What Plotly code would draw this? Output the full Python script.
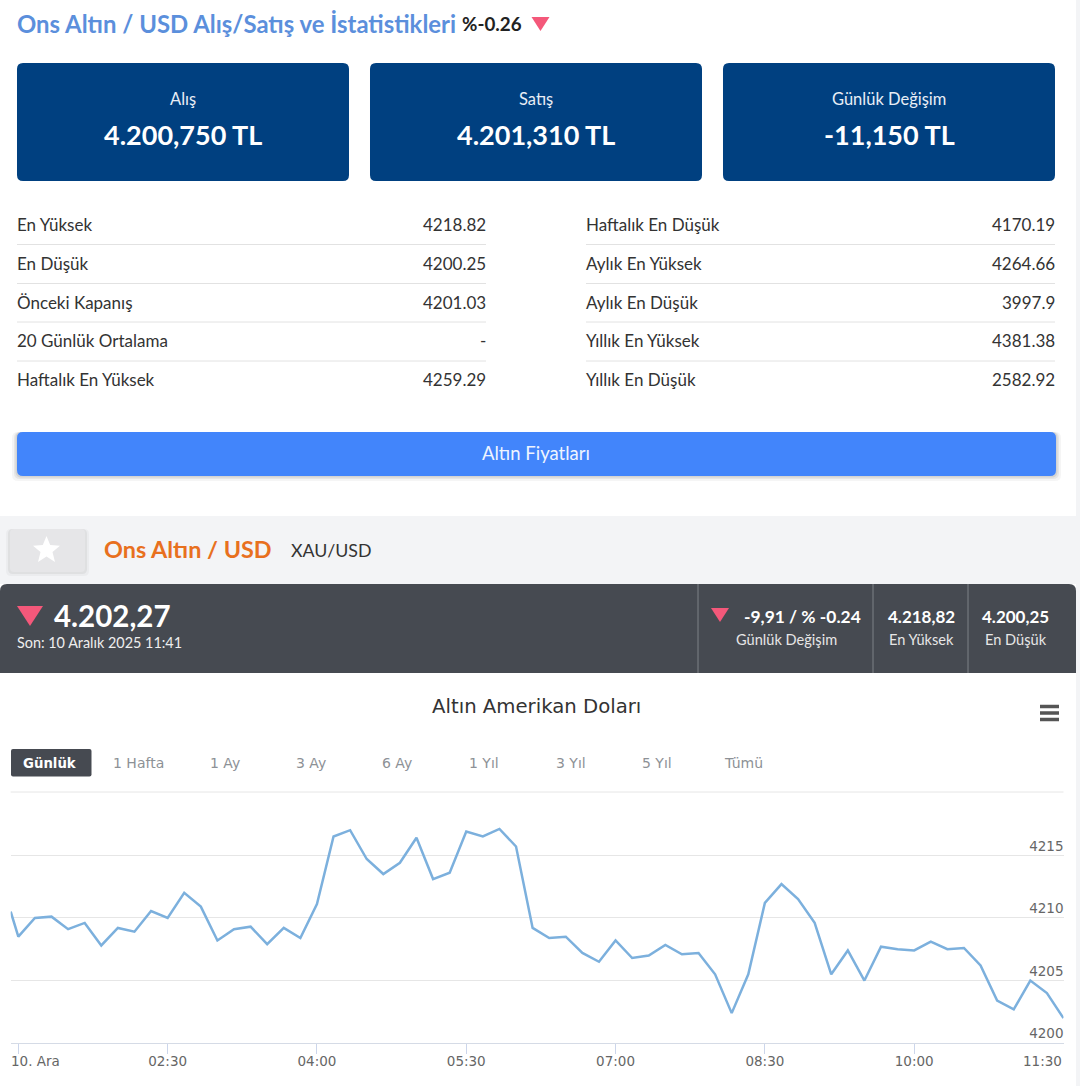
import plotly.graph_objects as go

W = 1080
H = 1086

# chart data, one point every 10 minutes from 01:00 (first one is cut by the plot edge)
times = [
    "00:55:24", "01:00", "01:10", "01:20", "01:30", "01:40", "01:50", "02:00", "02:10", "02:20",
    "02:30", "02:40", "02:50", "03:00", "03:10", "03:20", "03:30", "03:40", "03:50", "04:00",
    "04:10", "04:20", "04:30", "04:40", "04:50", "05:00", "05:10", "05:20", "05:30", "05:40",
    "05:50", "06:00", "06:10", "06:20", "06:30", "06:40", "06:50", "07:00", "07:10", "07:20",
    "07:30", "07:40", "07:50", "08:00", "08:10", "08:20", "08:30", "08:40", "08:50", "09:00",
    "09:10", "09:20", "09:30", "09:40", "09:50", "10:00", "10:10", "10:20", "10:30", "10:40",
    "10:50", "11:00", "11:10", "11:20", "11:30",
]
prices = [
    4210.5, 4208.5, 4210.0, 4210.1, 4209.1, 4209.6, 4207.8, 4209.2, 4208.9, 4210.55,
    4210.0, 4212.0, 4210.9, 4208.2, 4209.1, 4209.3, 4207.9, 4209.2, 4208.4, 4211.1,
    4216.5, 4217.0, 4214.7, 4213.5, 4214.4, 4216.4, 4213.1, 4213.6, 4216.9, 4216.5,
    4217.1, 4215.7, 4209.2, 4208.4, 4208.5, 4207.2, 4206.5, 4208.2, 4206.8, 4207.0,
    4207.85, 4207.1, 4207.2, 4205.5, 4202.4, 4205.5, 4211.2, 4212.7, 4211.5, 4209.6,
    4205.5, 4207.4, 4205.0, 4207.7, 4207.5, 4207.4, 4208.1, 4207.5, 4207.6, 4206.2,
    4203.4, 4202.7, 4205.0, 4204.0, 4202.0,
]

y_ticks = [4200, 4205, 4210, 4215, 4220]
y_labels = ["4200", "4205", "4210", "4215", ""]
x_ticks = ["01:00", "02:30", "04:00", "05:30", "07:00", "08:30", "10:00", "11:30"]
x_labels = ["", "02:30", "04:00", "05:30", "07:00", "08:30", "10:00", ""]

# texts of the page around the chart
cards = [("Alış", "4.200,750 TL"), ("Satış", "4.201,310 TL"), ("Günlük Değişim", "-11,150 TL")]
stats_left = [("En Yüksek", "4218.82"), ("En Düşük", "4200.25"), ("Önceki Kapanış", "4201.03"),
              ("20 Günlük Ortalama", "-"), ("Haftalık En Yüksek", "4259.29")]
stats_right = [("Haftalık En Düşük", "4170.19"), ("Aylık En Yüksek", "4264.66"), ("Aylık En Düşük", "3997.9"),
               ("Yıllık En Yüksek", "4381.38"), ("Yıllık En Düşük", "2582.92")]
ranges = ["1 Hafta", "1 Ay", "3 Ay", "6 Ay", "1 Yıl", "3 Yıl", "5 Yıl", "Tümü"]
range_x = [138, 225, 311, 397, 484, 571, 657, 743]

PAGE_FONT = "Lato"
CHART_FONT = "DejaVu Sans"
PINK = "#f4587a"
NAVY = "#004080"
DARK = "#464a51"
BLUE = "#4285fb"


def px(x):
    return x / W


def py(y):
    return 1 - y / H


def stamp(x, y):
    return f"{px(x):.5f} {py(y):.5f}"


def rounded(x0, y0, x1, y1, r, bottom=True):
    path = f"M {stamp(x0 + r, y0)} L {stamp(x1 - r, y0)} Q {stamp(x1, y0)} {stamp(x1, y0 + r)} "
    if bottom:
        path += f"L {stamp(x1, y1 - r)} Q {stamp(x1, y1)} {stamp(x1 - r, y1)} "
        path += f"L {stamp(x0 + r, y1)} Q {stamp(x0, y1)} {stamp(x0, y1 - r)} "
    else:
        path += f"L {stamp(x1, y1)} L {stamp(x0, y1)} "
    path += f"L {stamp(x0, y0 + r)} Q {stamp(x0, y0)} {stamp(x0 + r, y0)} Z"
    return path


def polygon(points):
    return "M " + " L ".join(stamp(x, y) for x, y in points) + " Z"


shapes = []
notes = []


def box(x0, y0, x1, y1, color, r=0, bottom=True, layer="below"):
    shapes.append(dict(type="path", path=rounded(x0, y0, x1, y1, r, bottom) if r else
                       polygon([(x0, y0), (x1, y0), (x1, y1), (x0, y1)]),
                       xref="paper", yref="paper", fillcolor=color, line_width=0, layer=layer))


def rule(x0, y0, x1, y1, color, width=1):
    shapes.append(dict(type="line", x0=px(x0), y0=py(y0), x1=px(x1), y1=py(y1), xref="paper", yref="paper",
                       line=dict(color=color, width=width), layer="below"))


def triangle(cx, cy, w, h, color=PINK):
    shapes.append(dict(type="path", path=polygon([(cx - w / 2, cy - h / 2), (cx + w / 2, cy - h / 2), (cx, cy + h / 2)]),
                       xref="paper", yref="paper", fillcolor=color, line_width=0))


def label(x, y, text, size, color, anchor="left", bold=False, font=PAGE_FONT):
    if bold:
        text = f"<b>{text}</b>"
    # annotations keep a small inner padding, take it back at the edges
    shift = {"left": -2, "right": 2, "center": 0}[anchor]
    notes.append(dict(x=px(x), y=py(y), xref="paper", yref="paper", text=text, showarrow=False, xanchor=anchor,
                      yanchor="middle", xshift=shift, font=dict(family=font, size=size, color=color)))


# page backgrounds
box(0, 516, 1080, 584, "#f3f4f6")
box(1076, 0, 1080, 1086, "#f3f4f6")

# header
label(17, 23, "Ons Altın / USD Alış/Satış ve İstatistikleri", 23.9, "#5b8fdc", bold=True)
label(462, 24, "%-0.26", 18.8, "#222222", bold=True)
triangle(540.5, 24, 18, 14)

# price cards
card_x = [(17, 349), (370, 702), (723, 1055)]
for (x0, x1), (title, value) in zip(card_x, cards):
    box(x0, 63, x1, 181, NAVY, r=6)
    label((x0 + x1) / 2, 99.5, title, 16.5, "#e8eef6", anchor="center")
    label((x0 + x1) / 2, 134, value, 27, "#ffffff", anchor="center", bold=True)

# stats tables
row_y = [224.6, 263.6, 302.6, 341, 379.6]
rule_y = [244.5, 283.5, 322, 361]
for (x0, x1), rows in (((17, 486), stats_left), ((586, 1055), stats_right)):
    for i, (name, value) in enumerate(rows):
        label(x0, row_y[i], name, 17, "#333333")
        label(x1, row_y[i], value, 17, "#333333", anchor="right")
    for y in rule_y:
        rule(x0, y, x1, y, "#e2e2e2")

# button
for grow, alpha in ((5, 0.04), (3, 0.06), (1.5, 0.08)):
    box(17 - grow, 432, 1056 + grow, 476 + grow, f"rgba(0,0,0,{alpha})", r=6)
box(17, 432, 1056, 476, BLUE, r=6)
label(536, 453, "Altın Fiyatları", 18.5, "#eef4ff", anchor="center")

# favourite star + instrument name
for grow, alpha in ((4, 0.03), (2, 0.05)):
    box(10 - grow, 529, 85 + grow, 572 + grow, f"rgba(0,0,0,{alpha})", r=5)
box(10, 529, 85, 572, "#e6e6e8", r=4)
star = [(46.5, 536), (50.2, 545), (60, 545.7), (52.5, 552), (55, 562), (46.5, 556.6), (38, 562), (40.5, 552), (33, 545.7), (42.8, 545)]
shapes.append(dict(type="path", path=polygon(star), xref="paper", yref="paper", fillcolor="#ffffff", line_width=0))
label(104, 549, "Ons Altın / USD", 23.4, "#e8701e", bold=True)
label(291, 549.5, "XAU/USD", 17.8, "#333333")

# dark quote bar
box(0, 584, 1076, 673, DARK, r=7, bottom=False)
for x in (698, 873, 968):
    rule(x, 584, x, 673, "#7d8187")
triangle(30, 616, 26, 20)
label(54, 615.5, "4.202,27", 29.5, "#ffffff", bold=True)
label(17, 642.5, "Son: 10 Aralık 2025 11:41", 14.4, "#eeeeee")
triangle(720, 615, 18, 14)
label(802.5, 616, "-9,91 / % -0.24", 17.4, "#ffffff", anchor="center", bold=True)
label(786, 639.5, "Günlük Değişim", 14.6, "#e6e6e6", anchor="center")
label(921, 616, "4.218,82", 17, "#ffffff", anchor="center", bold=True)
label(921, 639.5, "En Yüksek", 14.6, "#e6e6e6", anchor="center")
label(1015.5, 616, "4.200,25", 17, "#ffffff", anchor="center", bold=True)
label(1015.5, 639.5, "En Düşük", 14.6, "#e6e6e6", anchor="center")

# chart title, menu and range buttons
label(536.5, 706, "Altın Amerikan Doları", 19.7, "#333333", anchor="center", font=CHART_FONT)
for y in (706.5, 713, 719.5):
    rule(1040, y, 1059, y, "#555555", width=3.5)
box(11, 749, 91.5, 776.5, DARK, r=2)
label(50, 763, "Günlük", 13.3, "#ffffff", anchor="center", bold=True, font=CHART_FONT)
for x, text in zip(range_x, ranges):
    label(x, 763, text, 14, "#8d9196", anchor="center", font=CHART_FONT)

# top gridline sits on the axis edge, plotly leaves it out
rule(10.7, 792, 1063.5, 792, "#e6e6e6")

day = "2025-12-10 "


def stamped(clock):
    return day + clock


fig = go.Figure()
fig.add_trace(go.Scatter(x=[stamped(t) for t in times], y=prices, mode="lines",
                         line=dict(color="#7cb0dd", width=2.5), hoverinfo="x+y", showlegend=False))

# the two edge labels are pushed inwards so they stay on the page
notes.append(dict(x=stamped(x_ticks[0]), y=0, xref="x", yref="paper", yshift=(H - 1061), text="10. Ara", showarrow=False,
                  xanchor="center", xshift=17.5, yanchor="middle", font=dict(family=CHART_FONT, size=13.5, color="#666666")))
notes.append(dict(x=stamped(x_ticks[-1]), y=0, xref="x", yref="paper", yshift=(H - 1061), text="11:30", showarrow=False,
                  xanchor="right", yanchor="middle", font=dict(family=CHART_FONT, size=13.5, color="#666666")))

fig.update_layout(
    width=W,
    height=H,
    autosize=False,
    margin=dict(l=0, r=0, t=0, b=0),
    paper_bgcolor="#ffffff",
    plot_bgcolor="#ffffff",
    showlegend=False,
    shapes=shapes,
    annotations=notes,
    xaxis=dict(
        domain=[px(10.7), px(1063.5)],
        type="date",
        range=[stamped("00:55:24"), stamped("11:30")],
        tickmode="array",
        tickvals=[stamped(t) for t in x_ticks],
        ticktext=x_labels,
        showgrid=False,
        ticks="outside",
        ticklen=10,
        tickcolor="#ccd6eb",
        ticklabelstandoff=-4,
        showline=True,
        linecolor="#d5dbe6",
        linewidth=1,
        tickfont=dict(family=CHART_FONT, size=13.5, color="#666666"),
        anchor="y",
        zeroline=False,
    ),
    yaxis=dict(
        domain=[py(1043.2), py(792.6)],
        range=[4200, 4220],
        side="right",
        tickmode="array",
        tickvals=y_ticks,
        ticktext=y_labels,
        ticklabelposition="inside top",
        ticklabelstandoff=-3,
        gridcolor="#e6e6e6",
        gridwidth=1,
        zeroline=False,
        tickfont=dict(family=CHART_FONT, size=13.5, color="#666666"),
    ),
)

# the page margin would push the figure 8px off
fig.write_html("out.html", config={"displayModeBar": False},
               post_script="document.body.style.margin='0';document.documentElement.style.overflow='hidden';")
